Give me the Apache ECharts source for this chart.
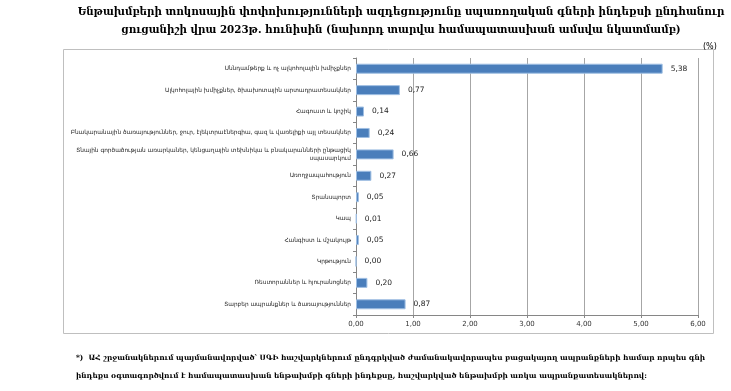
<!DOCTYPE html>
<html>
<head>
<meta charset="utf-8">
<script src="https://cdn.jsdelivr.net/npm/echarts@6/dist/echarts.min.js"></script>
<style>
  html, body { margin: 0; padding: 0; background: #fff; }
  #chart { width: 731px; height: 391px; }
</style>
</head>
<body>
<div id="chart"></div>
<script>
// categories, top to bottom as in the picture
const categories = [
  'Սննդամթերք և ոչ ալկոհոլային խմիչքներ',
  'Ալկոհոլային խմիչքներ, ծխախոտային արտադրատեսակներ',
  'Հագուստ և կոշիկ',
  'Բնակարանային ծառայություններ, ջուր, էլեկտրաէներգիա, գազ և վառելիքի այլ տեսակներ',
  'Տնային գործածության առարկաներ, կենցաղային տեխնիկա և բնակարանների ընթացիկ\nսպասարկում',
  'Առողջապահություն',
  'Տրանսպորտ',
  'Կապ',
  'Հանգիստ և մշակույթ',
  'Կրթություն',
  'Ռեստորաններ և հյուրանոցներ',
  'Տարբեր ապրանքներ և ծառայություններ'
]
const values = [5.38, 0.77, 0.14, 0.24, 0.66, 0.27, 0.05, 0.01, 0.05, 0.00, 0.20, 0.87]

const titleText = 'Ենթախմբերի տոկոսային փոփոխությունների ազդեցությունը սպառողական գների ինդեքսի ընդհանուր\nցուցանիշի վրա 2023թ. հունիսին (նախորդ տարվա համապատասխան ամսվա նկատմամբ)'
const noteText = '*)  ԱՀ շրջանակներում պայմանավորված՝ ՍԳԻ հաշվարկներում ընդգրկված ժամանակավորապես բացակայող ապրանքների համար որպես գնի\nինդեքս օգտագործվում է համապատասխան ենթախմբի գների ինդեքսը, հաշվարկված ենթախմբի առկա ապրանքատեսակներով:'

const fmt = v => v.toFixed(2).replace('.', ',')

const myChart = echarts.init(document.getElementById('chart'))
const option = {
  animation: false,
  title: [
    {
      text: titleText,
      left: 396, top: -2, textAlign: 'center',
      textStyle: { fontFamily: 'DejaVu Serif', fontWeight: 'bold', fontSize: 10.3, lineHeight: 18, color: '#000' }
    },
    {
      text: '(%)',
      left: 698, top: 38,
      textStyle: { fontFamily: 'DejaVu Sans', fontWeight: 'normal', fontSize: 8, color: '#000' }
    },
    {
      text: noteText,
      left: 71, top: 344,
      textStyle: { fontFamily: 'DejaVu Serif', fontWeight: 'bold', fontSize: 7.35, lineHeight: 18, color: '#000' }
    }
  ],
  graphic: [
    {
      type: 'rect',
      shape: { x: 63.5, y: 49.5, width: 650, height: 284 },
      style: { fill: 'none', stroke: '#bfbfbf', lineWidth: 1 }
    }
  ],
  grid: { left: 356, right: 33, top: 58, bottom: 76 },
  xAxis: {
    type: 'value',
    min: 0, max: 6, interval: 1,
    axisLine: { show: true, lineStyle: { color: '#868686' } },
    axisTick: { show: true, length: 3, lineStyle: { color: '#868686' } },
    splitLine: { lineStyle: { color: '#a6a6a6' } },
    axisLabel: { formatter: fmt, fontFamily: 'DejaVu Sans', fontSize: 7, color: '#333', margin: 6 }
  },
  yAxis: {
    type: 'category',
    inverse: true,
    data: categories,
    axisLine: { show: true, lineStyle: { color: '#868686' } },
    axisTick: { show: true, length: 3, lineStyle: { color: '#868686' } },
    axisLabel: {
      fontFamily: 'DejaVu Sans', fontSize: 5.8, color: '#222', margin: 5, lineHeight: 8
    }
  },
  series: [
    {
      type: 'bar',
      data: values,
      barWidth: 10,
      itemStyle: { color: '#4a7ebb', borderColor: '#9fbfe3', borderWidth: 1 },
      label: {
        show: true, position: 'right', distance: 8,
        formatter: p => fmt(p.value),
        fontFamily: 'DejaVu Sans', fontSize: 7.5, color: '#222'
      }
    }
  ]
}
myChart.setOption(option)
</script>
</body>
</html>
